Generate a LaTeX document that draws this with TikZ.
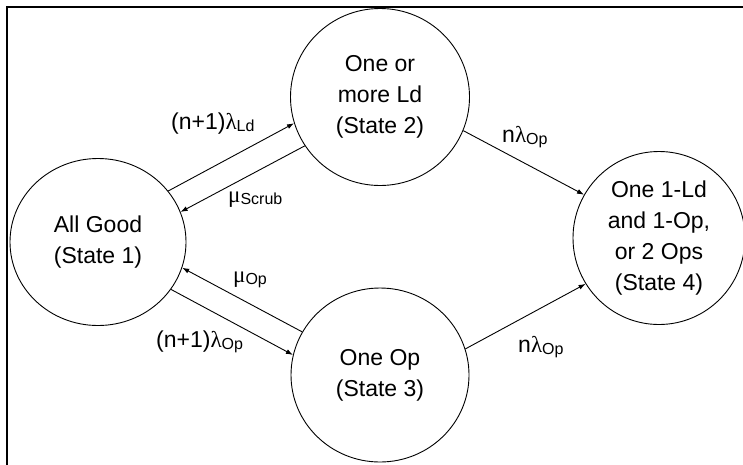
\documentclass[tikz,border=0pt]{standalone}
\usepackage{fontspec}
\setmainfont{Liberation Sans}
\newfontfamily\greekfont{Liberation Serif}
\usetikzlibrary{shapes.geometric,arrows.meta}
\newcommand{\glam}{{\greekfont λ}}
\newcommand{\gmu}{{\greekfont μ}}
\newcommand{\subtxt}[1]{\raisebox{-2.5pt}{\fontsize{16}{16}\selectfont #1}}
\tikzset{
  statenode/.style={draw, ellipse, inner sep=0pt, align=center, line width=0.9pt},
  ratelabel/.style={anchor=base west, inner sep=0pt},
  trans/.style={-{Latex[length=7pt,width=5pt]}, line width=0.9pt}
}

\begin{document}
\begin{tikzpicture}[x=1pt,y=-1pt,font=\fontsize{23}{31}\selectfont]
        \useasboundingbox (0,0) rectangle (743,464);
        \draw [line width=2pt] (7,470)--(7,7)--(750,7);
        \node[statenode, minimum width=176pt, minimum height=167pt] (s1) at (98,242) {All Good\\(State 1)};%good
        \node[statenode, minimum width=179pt, minimum height=177pt] (s2) at (380,97) {One or\\more Ld\\(State 2)};%ld
        \node[statenode, minimum width=178pt, minimum height=174pt] (s3) at (380,375) {One Op\\(State 3)};%op
        \node[statenode, minimum width=172pt, minimum height=173pt] (s4) at (659,238) {One 1-Ld\\and 1-Op,\\or 2 Ops\\(State 4)};%fail
        \draw [trans] (s1.36)--(s2.197);
        \draw [trans] (s2.213)--(s1.20);
        \draw [trans] (s3.151)--(s1.-17);
        \draw [trans] (s1.-33)--(s3.167);
        \draw [trans] (s2.-22)--(s4.150);
        \draw [trans] (s3.17)--(s4.212);
        \node[ratelabel] (l12) at (171,129) {(n+1)\glam\subtxt{Ld}};
        \node[ratelabel] (l21) at (228,202) {\gmu\subtxt{Scrub}};
        \node[ratelabel] (l31) at (233,282) {\gmu\subtxt{Op}};
        \node[ratelabel] (l13) at (156,347) {(n+1)\glam\subtxt{Op}};
        \node[ratelabel] (l24) at (502,142) {n\glam\subtxt{Op}};
        \node[ratelabel] (l34) at (518,352) {n\glam\subtxt{Op}};
\end{tikzpicture}
\end{document}
